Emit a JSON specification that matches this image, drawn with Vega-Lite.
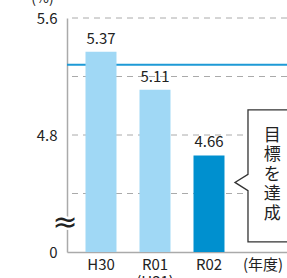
{
  "$schema": "https://vega.github.io/schema/vega-lite/v6.json",
  "autosize": "none",
  "width": 220,
  "height": 234,
  "padding": {"left": 67, "top": 18, "right": 0, "bottom": 26},
  "background": "white",
  "config": {
    "view": {"stroke": null},
    "font": "Noto Sans CJK JP",
    "text": {"font": "Noto Sans CJK JP"}
  },
  "datasets": {
    "bars": [
      {"year": "H30", "value": 5.37, "current": "no"},
      {"year": "R01", "value": 5.11, "current": "no"},
      {"year": "R02", "value": 4.66, "current": "yes"}
    ],
    "grid": [{"g": 4.4}, {"g": 4.8}, {"g": 5.2}, {"g": 5.6}],
    "target": [{"t": 5.28}],
    "box": [
      {"o": 1, "bx": 4.6, "by": 4.972},
      {"o": 2, "bx": 3.722, "by": 4.972},
      {"o": 3, "bx": 3.722, "by": 4.531},
      {"o": 4, "bx": 3.481, "by": 4.476},
      {"o": 5, "bx": 3.722, "by": 4.42},
      {"o": 6, "bx": 3.722, "by": 4.069},
      {"o": 7, "bx": 4.6, "by": 4.069}
    ],
    "boxfill": [{"x1": 3.722, "x2": 4.6, "y1": 4.069, "y2": 4.972}],
    "note": [{"nx": 4.17, "ny": 4.85, "label": ["目", "標", "を", "達", "成"]}],
    "brk": [{"kx": 0.333, "ky": 4.198, "sym": "≈"}]
  },
  "layer": [
    {
      "layer": [
        {
          "data": {"name": "grid"},
          "mark": {"type": "rule", "color": "#aaaaaa", "strokeWidth": 1, "strokeDash": [6, 5]},
          "encoding": {
            "y": {"field": "g", "type": "quantitative", "scale": {"domain": [4.0, 5.6], "nice": false, "zero": false},
              "axis": {
                "values": [4.0, 4.8, 5.6],
                "labelExpr": "datum.value == 4 ? '0' : format(datum.value, '.1f')",
                "grid": false, "ticks": false, "domainColor": "#aaaaaa", "domainWidth": 1.5,
                "labelFontSize": 15, "labelColor": "#222222", "labelPadding": 10, "labelFont": "Noto Sans CJK JP",
                "title": "(%)", "titleAngle": 0, "titleAlign": "center", "titleBaseline": "alphabetic",
                "titleX": -25, "titleY": -16, "titleFontSize": 14, "titleFontWeight": "normal", "titleColor": "#222222"
              }
            }
          }
        },
        {
          "data": {"name": "target"},
          "mark": {"type": "rule", "color": "#1e9ad6", "strokeWidth": 2},
          "encoding": {"y": {"field": "t", "type": "quantitative"}}
        },
        {
          "data": {"name": "bars"},
          "mark": {"type": "bar", "clip": true},
          "encoding": {
            "x": {"field": "year", "type": "nominal",
              "scale": {"domain": ["H30", "R01", "R02", "(年度)"], "paddingInner": 0.426, "paddingOuter": 0.25, "align": 0.685},
              "axis": {"title": null, "labelAngle": 0, "ticks": false, "domainColor": "#aaaaaa", "domainWidth": 1.5,
                "labelFontSize": 15, "labelColor": "#222222", "labelPadding": 5, "labelLineHeight": 17, "labelFont": "Noto Sans CJK JP",
                "labelOverlap": false, "labelBound": false,
                "labelExpr": "datum.value == 'R01' ? ['R01', '(H31)'] : datum.value"}
            },
            "y": {"field": "value", "type": "quantitative"},
            "color": {"field": "current", "type": "nominal", "scale": {"domain": ["no", "yes"], "range": ["#a0d8f5", "#0090cf"]}, "legend": null}
          }
        },
        {
          "data": {"name": "bars"},
          "mark": {"type": "text", "baseline": "bottom", "dy": -5, "fontSize": 15, "color": "#222222"},
          "encoding": {
            "x": {"field": "year", "type": "nominal"},
            "y": {"field": "value", "type": "quantitative"},
            "text": {"field": "value", "type": "quantitative", "format": ".2f"}
          }
        }
      ]
    },
    {
      "layer": [
        {
          "data": {"name": "boxfill"},
          "mark": {"type": "rect", "color": "white"},
          "encoding": {
            "x": {"field": "x1", "type": "quantitative", "scale": {"domain": [0.3704, 4.4444], "nice": false, "zero": false}, "axis": null},
            "x2": {"field": "x2"},
            "y": {"field": "y1", "type": "quantitative"},
            "y2": {"field": "y2"}
          }
        },
        {
          "data": {"name": "box"},
          "mark": {"type": "line", "color": "#333333", "strokeWidth": 1.3},
          "encoding": {
            "x": {"field": "bx", "type": "quantitative", "axis": null},
            "y": {"field": "by", "type": "quantitative"},
            "order": {"field": "o", "type": "quantitative"}
          }
        },
        {
          "data": {"name": "note"},
          "mark": {"type": "text", "fontSize": 17, "lineHeight": 19.5, "baseline": "top", "align": "center", "color": "#222222"},
          "encoding": {
            "x": {"field": "nx", "type": "quantitative", "axis": null},
            "y": {"field": "ny", "type": "quantitative"},
            "text": {"field": "label"}
          }
        },
        {
          "data": {"name": "brk"},
          "mark": {"type": "text", "fontSize": 30, "baseline": "middle", "align": "center", "color": "white", "stroke": "white", "strokeWidth": 5, "font": "DejaVu Sans"},
          "encoding": {
            "x": {"field": "kx", "type": "quantitative", "axis": null},
            "y": {"field": "ky", "type": "quantitative"},
            "text": {"field": "sym"}
          }
        },
        {
          "data": {"name": "brk"},
          "mark": {"type": "text", "fontSize": 30, "baseline": "middle", "align": "center", "color": "#222222", "font": "DejaVu Sans"},
          "encoding": {
            "x": {"field": "kx", "type": "quantitative", "axis": null},
            "y": {"field": "ky", "type": "quantitative"},
            "text": {"field": "sym"}
          }
        }
      ]
    }
  ],
  "resolve": {"scale": {"x": "independent"}}
}
